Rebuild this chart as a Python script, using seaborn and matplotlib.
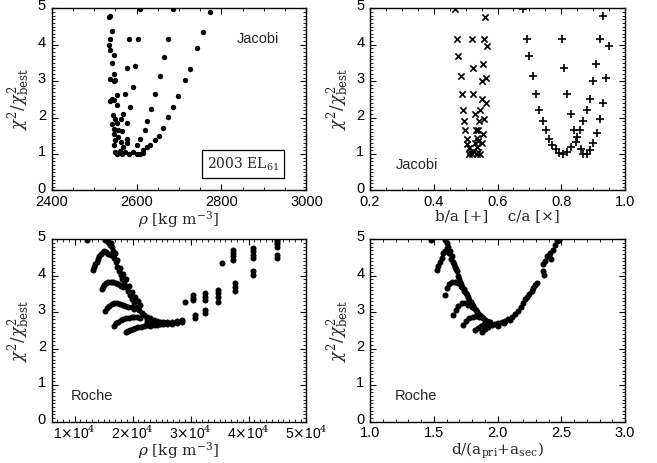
import matplotlib
matplotlib.use("Agg")
import matplotlib.pyplot as plt
import matplotlib.transforms as mtransforms
import seaborn as sns
from matplotlib.ticker import MultipleLocator

# --- Jacobi, density ---
rho_jac = [2536, 2538, 2608, 2687, 2773, 2542, 2757, 2538, 2583, 2603, 2675, 2536, 2742,
           2538, 2546, 2665, 2542, 2577, 2596, 2727, 2547, 2655, 2714, 2538, 2546, 2550,
           2591, 2553, 2573, 2644, 2698, 2538, 2542, 2547, 2555, 2585, 2687, 2634, 2544,
           2569, 2563, 2549, 2675, 2625, 2542, 2555, 2577, 2663, 2546, 2557, 2567, 2620,
           2546, 2654, 2557, 2577, 2608, 2643, 2549, 2563, 2577, 2632, 2546, 2569, 2600,
           2624, 2616, 2549, 2553, 2561, 2567, 2573, 2583, 2592, 2600, 2608, 2615]
chi_jac = [4.75, 4.79, 4.98, 4.98, 4.89, 4.38, 4.36, 4.17, 4.16, 4.16, 4.16, 3.99, 3.90,
           3.85, 3.71, 3.67, 3.49, 3.37, 3.42, 3.33, 3.21, 3.15, 3.03, 3.06, 3.01, 3.02,
           2.83, 2.63, 2.66, 2.66, 2.59, 2.46, 2.50, 2.48, 2.34, 2.29, 2.29, 2.23, 2.06,
           2.09, 1.97, 1.97, 2.02, 1.91, 1.83, 1.86, 1.86, 1.72, 1.68, 1.65, 1.62, 1.65,
           1.56, 1.49, 1.47, 1.42, 1.40, 1.38, 1.38, 1.33, 1.31, 1.26, 1.24, 1.19, 1.24,
           1.19, 1.10, 1.06, 1.01, 1.07, 1.01, 1.06, 1.01, 1.06, 1.01, 1.01, 1.03]

# --- Jacobi, axis ratios ---
ca_vals = [0.467, 0.561, 0.474, 0.519, 0.559, 0.568, 0.477, 0.556, 0.522, 0.484, 0.564,
           0.552, 0.488, 0.524, 0.550, 0.563, 0.491, 0.545, 0.529, 0.495, 0.558, 0.543,
           0.498, 0.533, 0.540, 0.556, 0.503, 0.535, 0.552, 0.505, 0.529, 0.540, 0.509,
           0.535, 0.514, 0.519, 0.522, 0.540, 0.545, 0.512, 0.537]
ca_chi = [4.98, 4.77, 4.16, 4.16, 4.16, 3.97, 3.69, 3.47, 3.35, 3.14, 3.09,
          3.00, 2.64, 2.66, 2.52, 2.41, 2.22, 2.22, 2.11, 1.91, 1.95, 1.90,
          1.65, 1.67, 1.65, 1.56, 1.40, 1.44, 1.31, 1.28, 1.31, 1.35, 1.17,
          1.19, 1.06, 1.01, 1.07, 1.06, 1.01, 1.00, 1.00]
ba_vals = [0.681, 0.930, 0.692, 0.801, 0.920, 0.951, 0.700, 0.810, 0.909, 0.710, 0.940,
           0.901, 0.721, 0.819, 0.890, 0.930, 0.731, 0.880, 0.830, 0.742, 0.920, 0.869,
           0.751, 0.840, 0.859, 0.911, 0.760, 0.770, 0.848, 0.845, 0.901, 0.830, 0.861,
           0.784, 0.794, 0.807, 0.817, 0.890, 0.869, 0.880]
ba_chi = [4.98, 4.79, 4.16, 4.16, 4.16, 3.97, 3.69, 3.35, 3.47, 3.14, 3.09,
          3.00, 2.64, 2.66, 2.52, 2.41, 2.22, 2.22, 2.11, 1.91, 1.95, 1.90,
          1.65, 1.67, 1.67, 1.58, 1.40, 1.26, 1.47, 1.33, 1.30, 1.19, 1.15,
          1.13, 1.04, 1.01, 1.06, 1.10, 1.01, 1.00]

# --- Roche, density ---
rho_roche = [12100,
             15200, 15500, 15800, 16100, 16400, 16550, 16700, 16850, 17050, 17350, 17650,
             17950, 18200, 18500, 18850, 19250, 19550, 19950, 20300, 20700, 21100, 21550,
             22000,
             16300, 16900, 17300, 17900, 18400, 18800, 19400, 19900, 20400, 20900, 21300,
             13200, 13350, 13500, 13800, 14000, 14250, 14550, 14850, 15100, 15400, 15800, 16200,
             14650, 14850, 15050, 15400, 15800, 16200, 16650, 17100, 17550, 17950, 18300,
             15250, 15500, 15900, 16400, 16850, 17350, 17800, 18300, 18750, 19250, 19850, 20300,
             16850, 17100, 17550, 17950, 18400, 18850, 19300, 19850, 20300, 20800, 21300,
             18850, 19150, 19550, 20000, 20450, 21000, 21450, 21950,
             22400, 22400, 22400, 22400, 23000, 23000, 23000, 23000, 23600, 23600, 23600,
             24150, 24150, 24150, 24700, 24700, 25300, 25300, 26000, 26000, 26850, 26850,
             27600, 27600, 28450, 28450,
             29000, 30450, 30450, 30450, 30750, 30750, 32500, 32500, 32500, 32500, 32500,
             34800, 34800, 34800, 34800, 35350, 37650, 37650, 37650, 37400, 37400, 37400,
             37400, 40800, 40800, 40800, 40800, 40800, 40800, 44850, 44850, 44850, 44850,
             44850, 44850]
chi_roche = [4.99,
             4.99, 4.99, 4.94, 4.85, 4.78, 4.68, 4.59, 4.48, 4.37, 4.25, 4.13,
             4.02, 3.91, 3.80, 3.68, 3.57, 3.46, 3.36, 3.27, 3.15, 3.06, 2.99,
             2.93,
             4.90, 4.62, 4.42, 4.20, 4.05, 3.90, 3.72, 3.55, 3.42, 3.30, 3.20,
             4.16, 4.25, 4.32, 4.39, 4.46, 4.53, 4.59, 4.65, 4.67, 4.65, 4.59, 4.56,
             3.64, 3.70, 3.75, 3.80, 3.82, 3.84, 3.82, 3.80, 3.77, 3.73, 3.68,
             3.03, 3.11, 3.17, 3.22, 3.25, 3.25, 3.23, 3.20, 3.18, 3.15, 3.13, 3.10,
             2.63, 2.70, 2.74, 2.78, 2.81, 2.83, 2.85, 2.87, 2.87, 2.87, 2.85,
             2.45, 2.49, 2.51, 2.54, 2.57, 2.59, 2.60, 2.62,
             2.88, 2.80, 2.72, 2.64, 2.84, 2.76, 2.68, 2.61, 2.79, 2.72, 2.64,
             2.76, 2.70, 2.64, 2.74, 2.68, 2.74, 2.68, 2.72, 2.67, 2.74, 2.68,
             2.76, 2.70, 2.79, 2.72,
             3.29, 3.47, 3.40, 3.34, 2.93, 2.85, 3.52, 3.43, 3.34, 3.06, 2.97,
             3.61, 3.52, 3.43, 3.29, 4.35, 3.80, 3.70, 3.57, 4.71, 4.62, 4.53,
             4.44, 4.76, 4.67, 4.57, 4.48, 4.12, 4.03, 4.99, 4.93, 4.86, 4.80,
             4.57, 4.48]

# --- Roche, separation ---
d_roche = [1.476,
           1.588, 1.601, 1.614, 1.627, 1.640, 1.654, 1.667, 1.680, 1.693, 1.706, 1.724,
           1.740, 1.758, 1.779, 1.797, 1.818, 1.837, 1.863, 1.889, 1.915, 1.941,
           1.600, 1.620, 1.635, 1.660, 1.675, 1.700, 1.715, 1.735, 1.750, 1.770, 1.790,
           1.810, 1.830, 1.850, 1.875, 1.900, 1.930,
           1.528, 1.536, 1.549, 1.562, 1.575, 1.588,
           1.588, 1.601, 1.622, 1.640, 1.667, 1.693, 1.711,
           1.654, 1.674, 1.693, 1.719, 1.745, 1.771, 1.797,
           1.732, 1.753, 1.779, 1.805, 1.831, 1.857,
           1.823, 1.844, 1.868, 1.894, 1.920, 1.876, 1.902, 1.928,
           1.954, 1.980, 2.006, 2.033, 2.059, 2.085, 2.111, 2.137, 2.163, 2.182, 2.202,
           2.215, 2.228, 2.249, 2.268, 2.281, 2.294, 2.307, 2.354, 2.359, 2.365, 2.372,
           2.385, 2.412, 2.432, 2.451, 2.469, 2.484, 2.000, 2.050, 2.100, 2.400, 2.420]
chi_droche = [4.99,
              4.99, 4.89, 4.78, 4.67, 4.53, 4.39, 4.25, 4.12, 3.98, 3.84, 3.70,
              3.59, 3.48, 3.34, 3.22, 3.11, 3.00, 2.91, 2.83, 2.76, 2.72,
              4.75, 4.62, 4.45, 4.32, 4.18, 3.92, 3.78, 3.64, 3.54, 3.42, 3.28,
              3.17, 3.05, 2.95, 2.87, 2.79, 2.74,
              4.16, 4.28, 4.39, 4.50, 4.62, 4.67,
              3.48, 3.66, 3.77, 3.82, 3.84, 3.80, 3.73,
              2.93, 3.06, 3.17, 3.25, 3.25, 3.20, 3.15,
              2.65, 2.76, 2.83, 2.88, 2.90, 2.88,
              2.51, 2.58, 2.63, 2.67, 2.70, 2.47, 2.53, 2.60,
              2.65, 2.67, 2.70, 2.72, 2.76, 2.82, 2.88, 2.95, 3.04, 3.13, 3.25,
              3.37, 3.43, 3.49, 3.59, 3.66, 3.75, 3.80, 4.32, 4.12, 4.03, 4.41,
              4.53, 4.62, 4.71, 4.85, 4.96, 4.99, 2.62, 2.70, 2.78, 4.55, 4.45]

roche_ticks = [10000, 20000, 30000, 40000, 50000]
roche_labels = [r"1$\times$10$^4$", r"2$\times$10$^4$", r"3$\times$10$^4$",
                r"4$\times$10$^4$", r"5$\times$10$^4$"]

sns.set_theme(style="ticks")
plt.rcParams["font.family"] = ["Liberation Sans", "DejaVu Sans"]
plt.rcParams["mathtext.fontset"] = "dejavuserif"
LAB = ["DejaVu Serif"]

fig = plt.figure(figsize=(6.57, 4.63), dpi=100)
W, H = 0.3881, 0.3935
ax1 = fig.add_axes([0.0784, 0.5886, W, H])
ax2 = fig.add_axes([0.5632, 0.5886, W, H])
ax3 = fig.add_axes([0.0784, 0.0896, W, H])
ax4 = fig.add_axes([0.5632, 0.0896, W, H])

sns.scatterplot(x=rho_jac, y=chi_jac, ax=ax1, color="black", s=15, linewidth=0)
sns.scatterplot(x=ba_vals, y=ba_chi, ax=ax2, color="black", marker="+", s=28, linewidth=1.2)
sns.scatterplot(x=ca_vals, y=ca_chi, ax=ax2, color="black", marker="x", s=20, linewidth=1.2)
sns.scatterplot(x=rho_roche, y=chi_roche, ax=ax3, color="black", s=19, linewidth=0)
sns.scatterplot(x=d_roche, y=chi_droche, ax=ax4, color="black", s=19, linewidth=0)

ax1.set_xlim(2400, 3000)
ax1.xaxis.set_major_locator(MultipleLocator(200))
ax1.xaxis.set_minor_locator(MultipleLocator(50))
ax2.set_xlim(0.2, 1.0)
ax2.set_xticks([0.2, 0.4, 0.6, 0.8, 1.0])
ax2.set_xticklabels(["0.2", "0.4", "0.6", "0.8", "1.0"])
ax2.xaxis.set_minor_locator(MultipleLocator(0.05))
ax3.set_xlim(6000, 50000)
ax3.set_xticks(roche_ticks)
ax3.set_xticklabels(roche_labels)
ax3.xaxis.set_minor_locator(MultipleLocator(1000))
ax4.set_xlim(1.0, 3.0)
ax4.set_xticks([1.0, 1.5, 2.0, 2.5, 3.0])
ax4.set_xticklabels(["1.0", "1.5", "2.0", "2.5", "3.0"])
ax4.xaxis.set_minor_locator(MultipleLocator(0.1))

# nudge y tick labels up a little so "0" clears the x labels
lift = mtransforms.ScaledTranslation(0, 2.5 / 72, fig.dpi_scale_trans)

ylab = r"$\chi^2/\chi^2_{\rm best}$"
for ax in (ax1, ax2, ax3, ax4):
    ax.set_ylim(0, 5)
    ax.yaxis.set_major_locator(MultipleLocator(1))
    ax.yaxis.set_minor_locator(MultipleLocator(0.1))
    ax.tick_params(which="both", direction="in", top=True, right=True, colors="black",
                   labelsize=10.5)
    ax.tick_params(axis="x", pad=3.5)
    ax.tick_params(axis="y", pad=4)
    ax.tick_params(which="major", length=4, width=0.8)
    ax.tick_params(which="minor", length=2, width=0.6)
    for sp in ax.spines.values():
        sp.set_color("black")
        sp.set_linewidth(1.0)
    for lbl in ax.get_yticklabels():
        lbl.set_transform(lbl.get_transform() + lift)
    ax.set_ylabel(ylab, fontsize=12, labelpad=4)

# the 1x10^4 labels are taller, so keep them tight to fit the x label
ax3.tick_params(axis="x", labelsize=10, pad=2)

ax1.set_xlabel(r"$\rho$ [kg m$^{-3}$]", family=LAB, fontsize=11, labelpad=0)
ax2.set_xlabel(u"b/a [+]    c/a [\u00d7]", family=LAB, fontsize=11, labelpad=0)
ax3.set_xlabel(r"$\rho$ [kg m$^{-3}$]", family=LAB, fontsize=11, labelpad=-1)
ax4.set_xlabel(r"d/(a$_{\rm pri}$+a$_{\rm sec}$)", family=LAB, fontsize=11, labelpad=0)

ax1.text(0.81, 0.83, "Jacobi", transform=ax1.transAxes, ha="center", va="center", fontsize=10.5)
ax1.text(0.75, 0.145, r"2003 EL$_{61}$", transform=ax1.transAxes, ha="center", va="center",
         family=LAB, fontsize=10,
         bbox=dict(boxstyle="square,pad=0.35", facecolor="white", edgecolor="black", linewidth=0.9))
ax2.text(0.185, 0.14, "Jacobi", transform=ax2.transAxes, ha="center", va="center", fontsize=10.5)
ax3.text(0.16, 0.14, "Roche", transform=ax3.transAxes, ha="center", va="center", fontsize=10.5)
ax4.text(0.18, 0.14, "Roche", transform=ax4.transAxes, ha="center", va="center", fontsize=10.5)

fig.savefig("out.png", dpi=100, facecolor="white")
